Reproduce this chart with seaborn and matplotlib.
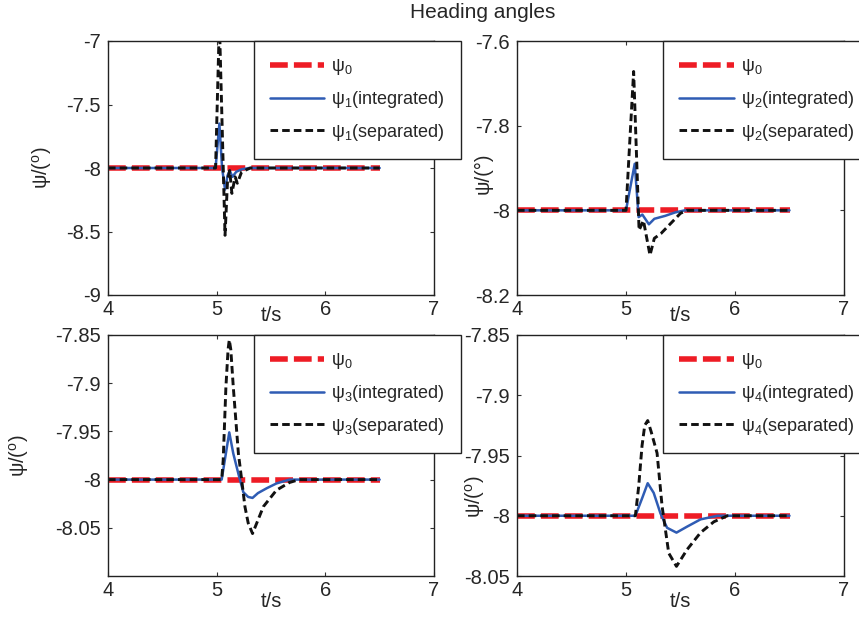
import matplotlib
matplotlib.use("Agg")
import matplotlib.pyplot as plt
import seaborn as sns

# reference value psi0 (all panels)
t_ref = [4.0, 6.5]
psi0 = [-8.0, -8.0]

# panel 1
t1_int = [4.0, 4.99, 5.025, 5.05, 5.077, 5.10, 5.12, 5.145, 5.18, 5.23, 5.30, 6.5]
psi1_int = [-8.0, -8.0, -7.65, -8.0, -8.17, -8.06, -8.02, -8.07, -8.03, -8.01, -8.0, -8.0]
t1_sep = [4.0, 4.99, 5.025, 5.077, 5.10, 5.12, 5.14, 5.17, 5.19, 5.23, 5.31, 6.5]
psi1_sep = [-8.0, -8.0, -6.85, -8.53, -8.1, -8.02, -8.2, -8.07, -8.12, -8.03, -8.0, -8.0]

# panel 2
t2_int = [4.0, 5.0, 5.08, 5.116, 5.15, 5.21, 5.26, 5.36, 5.45, 5.54, 6.5]
psi2_int = [-8.0, -8.0, -7.89, -8.016, -8.01, -8.033, -8.02, -8.013, -8.005, -8.0, -8.0]
t2_sep = [4.0, 5.0, 5.07, 5.12, 5.16, 5.22, 5.26, 5.32, 5.41, 5.50, 5.56, 6.5]
psi2_sep = [-8.0, -8.0, -7.672, -8.047, -8.024, -8.106, -8.066, -8.055, -8.031, -8.007, -8.0, -8.0]

# panel 3
t3_int = [4.0, 5.046, 5.116, 5.153, 5.2, 5.245, 5.29, 5.33, 5.38, 5.46, 5.55, 5.67, 6.5]
psi3_int = [-8.0, -8.0, -7.951, -7.973, -7.994, -8.013, -8.018, -8.019, -8.014, -8.009, -8.004, -8.0, -8.0]
t3_sep = [4.0, 5.046, 5.06, 5.085, 5.105, 5.116, 5.13, 5.153, 5.2, 5.23, 5.26, 5.29, 5.33,
          5.43, 5.55, 5.67, 5.76, 6.5]
psi3_sep = [-8.0, -8.0, -7.98, -7.904, -7.865, -7.855, -7.865, -7.904, -7.973, -8.0, -8.028,
            -8.045, -8.056, -8.028, -8.011, -8.003, -8.0, -8.0]

# panel 4
t4_int = [4.0, 5.086, 5.15, 5.199, 5.254, 5.316, 5.377, 5.463, 5.561, 5.684, 5.84, 6.5]
psi4_int = [-8.0, -8.0, -7.985, -7.973, -7.981, -7.998, -8.010, -8.014, -8.009, -8.003, -8.0, -8.0]
t4_sep = [4.0, 5.086, 5.116, 5.147, 5.172, 5.199, 5.23, 5.285, 5.331, 5.392, 5.463, 5.561,
          5.684, 5.806, 5.93, 6.5]
psi4_sep = [-8.0, -8.0, -7.976, -7.942, -7.925, -7.921, -7.93, -7.948, -7.992, -8.031, -8.042,
            -8.028, -8.014, -8.005, -8.0, -8.0]

panels = [
    (1, t1_int, psi1_int, t1_sep, psi1_sep, (-9, -7), [-9, -8.5, -8, -7.5, -7], r'ψ/($^\mathrm{o}$)'),
    (2, t2_int, psi2_int, t2_sep, psi2_sep, (-8.2, -7.6), [-8.2, -8, -7.8, -7.6], 'ψ/(°)'),
    (3, t3_int, psi3_int, t3_sep, psi3_sep, (-8.1, -7.85), [-8.05, -8, -7.95, -7.9, -7.85], r'ψ/($^\mathrm{o}$)'),
    (4, t4_int, psi4_int, t4_sep, psi4_sep, (-8.05, -7.85), [-8.05, -8, -7.95, -7.9, -7.85], r'ψ/($^\mathrm{o}$)'),
]
ytick_text = {
    1: ['-9', '-8.5', '-8', '-7.5', '-7'],
    2: ['-8.2', '-8', '-7.8', '-7.6'],
    3: ['-8.05', '-8', '-7.95', '-7.9', '-7.85'],
    4: ['-8.05', '-8', '-7.95', '-7.9', '-7.85'],
}

sns.set_style('ticks')
plt.rcParams['font.family'] = ['Liberation Sans', 'DejaVu Sans']
plt.rcParams['mathtext.fontset'] = 'custom'
plt.rcParams['mathtext.rm'] = 'Liberation Sans'
plt.rcParams['mathtext.it'] = 'Liberation Sans:italic'

W, H = 859, 619
fig = plt.figure(figsize=(W / 100, H / 100), dpi=100)

# axes rectangles in pixels: left, top, right, bottom
rects = {1: (108, 41, 434, 295), 2: (517, 41, 844, 295),
         3: (108, 335, 434, 576), 4: (517, 335, 844, 576)}
ylab_x = {1: -0.165, 2: -0.075, 3: -0.235, 4: -0.092}
ylab_y = {1: 0.5, 2: 0.48, 3: 0.5, 4: 0.33}
xlab_y = {1: -0.045, 2: -0.045, 3: -0.066, 4: -0.066}

red = '#ee1c25'
blue = '#2f5cb4'

for k, ti, yi, ts, ys, ylim, yt, ylab in panels:
    l, t, r, b = rects[k]
    ax = fig.add_axes([l / W, 1 - b / H, (r - l) / W, (b - t) / H])
    sns.lineplot(x=t_ref, y=psi0, ax=ax, color=red, linewidth=4, label=r'ψ$_0$')
    ax.lines[-1].set_dashes((3.2, 1.1))
    sns.lineplot(x=ti, y=yi, ax=ax, color=blue, linewidth=1.8, label=f'ψ$_{k}$(integrated)')
    sns.lineplot(x=ts, y=ys, ax=ax, color='#111111', linewidth=2.1, label=f'ψ$_{k}$(separated)')
    ax.lines[-1].set_dashes((2.6, 1.4))

    ax.set_xlim(4, 7)
    ax.set_ylim(*ylim)
    ax.set_xticks([4, 5, 6, 7])
    ax.set_yticks(yt)
    ax.set_yticklabels(ytick_text[k])
    ax.tick_params(direction='in', length=3, width=0.8, labelsize=14.5, top=True, right=True,
                   color='#333333')
    ax.tick_params(axis='y', pad=5)
    for s in ax.spines.values():
        s.set_linewidth(1.0)
        s.set_color('#222222')

    ax.set_xlabel('t/s', fontsize=14.5)
    ax.xaxis.set_label_coords(0.5, xlab_y[k])
    ax.set_ylabel(ylab, fontsize=14.5)
    ax.yaxis.set_label_coords(ylab_x[k], ylab_y[k])

    leg = ax.legend(loc='upper left', bbox_to_anchor=(0.447, 1.0), borderaxespad=0,
                    fontsize=13, frameon=True, fancybox=False, framealpha=1,
                    edgecolor='#222222', handlelength=3.0, handletextpad=0.4,
                    labelspacing=0.65, borderpad=0.9)
    leg.get_frame().set_linewidth(1.0)

fig.text(483 / W, 1 - 13 / H, 'Heading angles', ha='center', va='center', fontsize=15)

fig.savefig('out.png', dpi=100)
